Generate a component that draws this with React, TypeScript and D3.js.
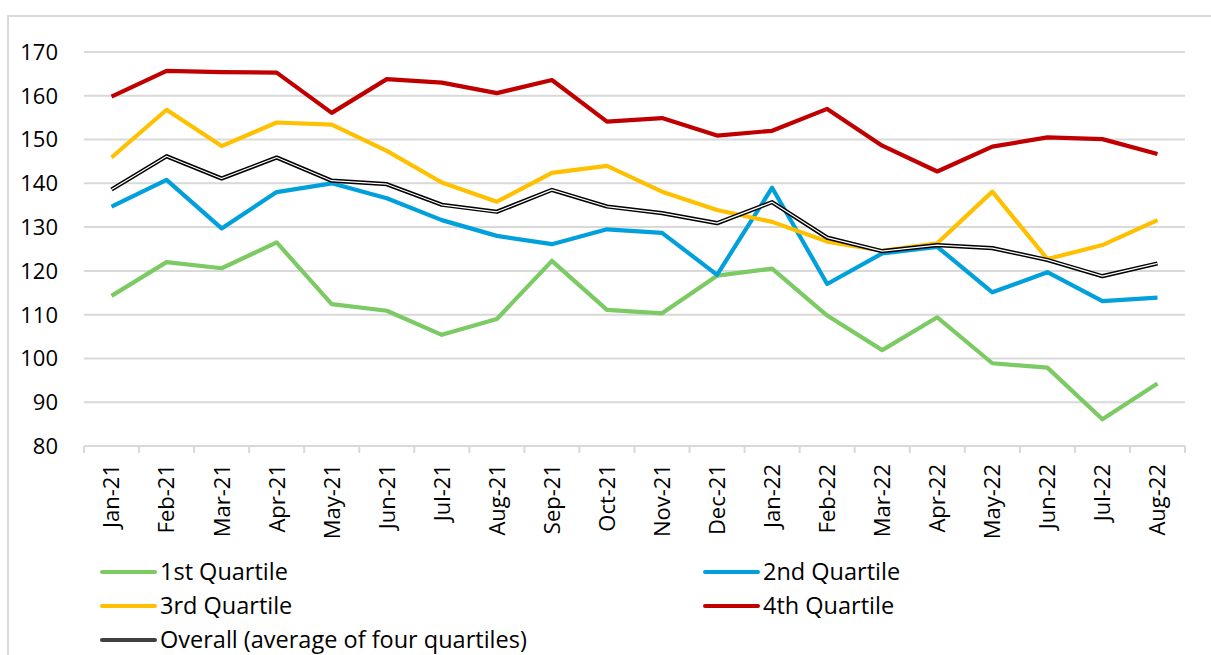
import { useEffect, useRef } from "react";
import * as d3 from "d3";

// month labels along the x axis
const months = [
  "Jan-21", "Feb-21", "Mar-21", "Apr-21", "May-21", "Jun-21", "Jul-21", "Aug-21", "Sep-21", "Oct-21",
  "Nov-21", "Dec-21", "Jan-22", "Feb-22", "Mar-22", "Apr-22", "May-22", "Jun-22", "Jul-22", "Aug-22",
];

const q1 = [114.3, 122.0, 120.6, 126.5, 112.4, 110.9, 105.4, 109.0, 122.3, 111.1, 110.3, 118.9, 120.5, 109.8, 101.9, 109.4, 98.9, 97.9, 86.1, 94.3];
const q2 = [134.7, 140.8, 129.7, 138.0, 140.0, 136.6, 131.6, 128.0, 126.1, 129.5, 128.7, 119.1, 139.0, 117.0, 124.0, 125.5, 115.1, 119.7, 113.1, 113.9];
const q3 = [145.9, 156.8, 148.5, 153.9, 153.4, 147.4, 140.2, 135.8, 142.4, 144.0, 138.1, 133.9, 131.2, 126.7, 124.6, 126.3, 138.1, 122.7, 125.9, 131.6];
const q4 = [159.8, 165.7, 165.4, 165.3, 156.1, 163.8, 163.0, 160.6, 163.6, 154.1, 154.9, 150.9, 152.0, 157.0, 148.6, 142.7, 148.4, 150.5, 150.1, 146.7];
const overall = [138.6, 146.2, 141.1, 145.9, 140.6, 139.8, 135.1, 133.5, 138.5, 134.7, 133.2, 130.9, 135.7, 127.6, 124.5, 125.9, 125.2, 122.5, 118.8, 121.7];

const yTicks = [80, 90, 100, 110, 120, 130, 140, 150, 160, 170];

const series = [
  { name: "1st Quartile", values: q1, color: "#7bca64" },
  { name: "2nd Quartile", values: q2, color: "#00a0dc" },
  { name: "3rd Quartile", values: q3, color: "#ffc000" },
  { name: "4th Quartile", values: q4, color: "#c00000" },
];

const FONT = "'Open Sans', sans-serif";
const FS = 22;
const LEGEND_FS = 23.5;

const App = () => {
  const svgRef = useRef<SVGSVGElement>(null);

  useEffect(() => {
    const svg = d3.select(svgRef.current);
    svg.selectAll("*").remove();

    const left = 84;
    const right = 1185;
    const top = 52;
    const bottom = 446;

    const x = d3.scaleBand().domain(months).range([left, right]);
    const y = d3.scaleLinear().domain([80, 170]).range([bottom, top]);
    const cx = (i: number) => (x(months[i]) as number) + x.bandwidth() / 2;

    // frame of the chart area
    svg
      .append("rect")
      .attr("x", 8)
      .attr("y", 16)
      .attr("width", 1300)
      .attr("height", 800)
      .attr("fill", "#fff")
      .attr("stroke", "#d9d9d9")
      .attr("stroke-width", 2);

    // grid lines
    svg
      .append("g")
      .selectAll("line")
      .data(yTicks)
      .enter()
      .append("line")
      .attr("x1", left)
      .attr("x2", right)
      .attr("y1", (d) => y(d))
      .attr("y2", (d) => y(d))
      .attr("stroke", "#d9d9d9")
      .attr("stroke-width", 2);

    // y labels
    svg
      .append("g")
      .selectAll("text")
      .data(yTicks)
      .enter()
      .append("text")
      .attr("x", 58)
      .attr("y", (d) => y(d))
      .attr("dy", "0.36em")
      .attr("text-anchor", "end")
      .attr("font-family", FONT)
      .attr("font-size", FS)
      .attr("fill", "#000")
      .text((d) => d);

    // x tick marks at band edges
    const edges = months.map((m) => x(m) as number).concat([right]);
    svg
      .append("g")
      .selectAll("line")
      .data(edges)
      .enter()
      .append("line")
      .attr("x1", (d) => d)
      .attr("x2", (d) => d)
      .attr("y1", bottom)
      .attr("y2", bottom + 7)
      .attr("stroke", "#d9d9d9")
      .attr("stroke-width", 2);

    // x labels, rotated
    svg
      .append("g")
      .selectAll("text")
      .data(months)
      .enter()
      .append("text")
      .attr("transform", (d, i) => `translate(${cx(i)},${bottom + 18}) rotate(-90)`)
      .attr("dy", "0.36em")
      .attr("text-anchor", "end")
      .attr("font-family", FONT)
      .attr("font-size", FS)
      .attr("fill", "#000")
      .text((d) => d);

    const line = d3
      .line<number>()
      .x((d, i) => cx(i))
      .y((d) => y(d));

    // quartile lines
    series.forEach((s) => {
      svg
        .append("path")
        .datum(s.values)
        .attr("d", line)
        .attr("fill", "none")
        .attr("stroke", s.color)
        .attr("stroke-width", 4.2)
        .attr("stroke-linejoin", "round");
    });

    // overall: black with white core
    svg
      .append("path")
      .datum(overall)
      .attr("d", line)
      .attr("fill", "none")
      .attr("stroke", "#000")
      .attr("stroke-width", 4.2)
      .attr("stroke-linejoin", "round");
    svg
      .append("path")
      .datum(overall)
      .attr("d", line)
      .attr("fill", "none")
      .attr("stroke", "#fff")
      .attr("stroke-width", 1.2)
      .attr("stroke-linejoin", "round");

    // legend
    const legendItems = [
      { name: series[0].name, color: series[0].color, col: 0, row: 0 },
      { name: series[1].name, color: series[1].color, col: 1, row: 0 },
      { name: series[2].name, color: series[2].color, col: 0, row: 1 },
      { name: series[3].name, color: series[3].color, col: 1, row: 1 },
      { name: "Overall (average of four quartiles)", color: "#404040", col: 0, row: 2 },
    ];
    const colX = [102, 705];
    const legend = svg
      .append("g")
      .selectAll("g")
      .data(legendItems)
      .enter()
      .append("g")
      .attr("transform", (d) => `translate(${colX[d.col]},${572 + d.row * 34})`);
    legend
      .append("line")
      .attr("x1", 0)
      .attr("x2", 53)
      .attr("stroke", (d) => d.color)
      .attr("stroke-width", 4)
      .attr("stroke-linecap", "round");
    legend
      .append("text")
      .attr("x", 58)
      .attr("dy", "0.36em")
      .attr("font-family", FONT)
      .attr("font-size", LEGEND_FS)
      .attr("fill", "#000")
      .text((d) => d.name);
  }, []);

  return (
    <svg
      ref={svgRef}
      width={1211}
      height={655}
      style={{ position: "absolute", left: 0, top: 0, display: "block" }}
    ></svg>
  );
};

export default App;
